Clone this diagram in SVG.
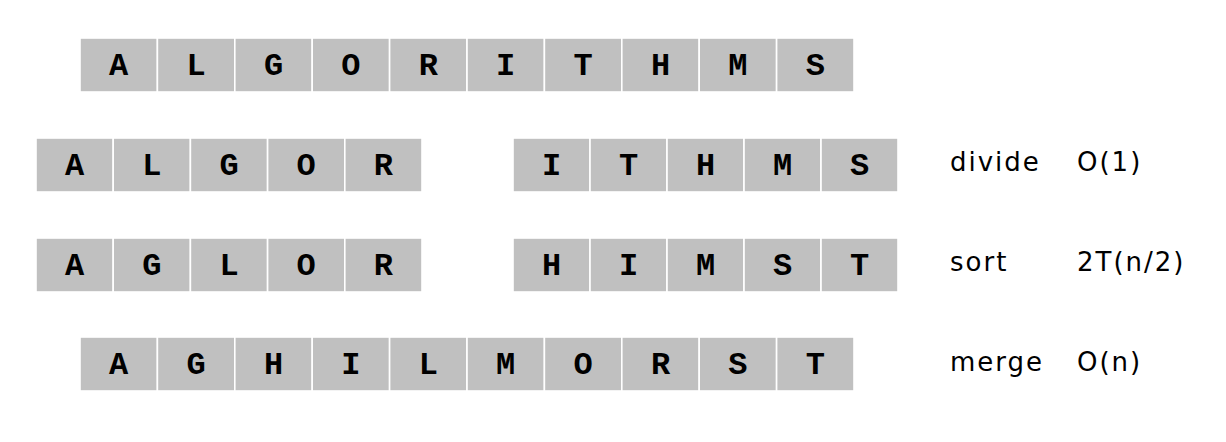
<svg xmlns="http://www.w3.org/2000/svg" width="1226" height="442" viewBox="0 0 1226 442">
<style>
.c rect{fill:#c0c0c0;stroke:#fff;stroke-width:1.6}
.c text{font-family:"Liberation Mono","Courier New",monospace;font-weight:bold;font-size:32px;fill:#000;text-anchor:middle}
.l{font-family:"Comic Sans MS","DejaVu Sans",sans-serif;font-size:26px;letter-spacing:2px;fill:#000}
</style>
<rect width="1226" height="442" fill="#fff"/>
<g id="row1">
<g id="r1c0" class="c"><rect x="80" y="38" width="77.4" height="54"/><text x="118.7" y="75">A</text></g>
<g id="r1c1" class="c"><rect x="157.4" y="38" width="77.4" height="54"/><text x="196.1" y="75">L</text></g>
<g id="r1c2" class="c"><rect x="234.8" y="38" width="77.4" height="54"/><text x="273.5" y="75">G</text></g>
<g id="r1c3" class="c"><rect x="312.2" y="38" width="77.4" height="54"/><text x="350.9" y="75">O</text></g>
<g id="r1c4" class="c"><rect x="389.6" y="38" width="77.4" height="54"/><text x="428.3" y="75">R</text></g>
<g id="r1c5" class="c"><rect x="467" y="38" width="77.4" height="54"/><text x="505.7" y="75">I</text></g>
<g id="r1c6" class="c"><rect x="544.4" y="38" width="77.4" height="54"/><text x="583.1" y="75">T</text></g>
<g id="r1c7" class="c"><rect x="621.8" y="38" width="77.4" height="54"/><text x="660.5" y="75">H</text></g>
<g id="r1c8" class="c"><rect x="699.2" y="38" width="77.4" height="54"/><text x="737.9" y="75">M</text></g>
<g id="r1c9" class="c"><rect x="776.6" y="38" width="77.4" height="54"/><text x="815.3" y="75">S</text></g>
</g>
<g id="row2">
<g id="r2c0" class="c"><rect x="36" y="138" width="77.2" height="54"/><text x="74.6" y="175">A</text></g>
<g id="r2c1" class="c"><rect x="113.2" y="138" width="77.2" height="54"/><text x="151.8" y="175">L</text></g>
<g id="r2c2" class="c"><rect x="190.4" y="138" width="77.2" height="54"/><text x="229" y="175">G</text></g>
<g id="r2c3" class="c"><rect x="267.6" y="138" width="77.2" height="54"/><text x="306.2" y="175">O</text></g>
<g id="r2c4" class="c"><rect x="344.8" y="138" width="77.2" height="54"/><text x="383.4" y="175">R</text></g>
<g id="r2c5" class="c"><rect x="513" y="138" width="77" height="54"/><text x="551.5" y="175">I</text></g>
<g id="r2c6" class="c"><rect x="590" y="138" width="77" height="54"/><text x="628.5" y="175">T</text></g>
<g id="r2c7" class="c"><rect x="667" y="138" width="77" height="54"/><text x="705.5" y="175">H</text></g>
<g id="r2c8" class="c"><rect x="744" y="138" width="77" height="54"/><text x="782.5" y="175">M</text></g>
<g id="r2c9" class="c"><rect x="821" y="138" width="77" height="54"/><text x="859.5" y="175">S</text></g>
</g>
<g id="row3">
<g id="r3c0" class="c"><rect x="36" y="238" width="77.2" height="54"/><text x="74.6" y="275">A</text></g>
<g id="r3c1" class="c"><rect x="113.2" y="238" width="77.2" height="54"/><text x="151.8" y="275">G</text></g>
<g id="r3c2" class="c"><rect x="190.4" y="238" width="77.2" height="54"/><text x="229" y="275">L</text></g>
<g id="r3c3" class="c"><rect x="267.6" y="238" width="77.2" height="54"/><text x="306.2" y="275">O</text></g>
<g id="r3c4" class="c"><rect x="344.8" y="238" width="77.2" height="54"/><text x="383.4" y="275">R</text></g>
<g id="r3c5" class="c"><rect x="513" y="238" width="77" height="54"/><text x="551.5" y="275">H</text></g>
<g id="r3c6" class="c"><rect x="590" y="238" width="77" height="54"/><text x="628.5" y="275">I</text></g>
<g id="r3c7" class="c"><rect x="667" y="238" width="77" height="54"/><text x="705.5" y="275">M</text></g>
<g id="r3c8" class="c"><rect x="744" y="238" width="77" height="54"/><text x="782.5" y="275">S</text></g>
<g id="r3c9" class="c"><rect x="821" y="238" width="77" height="54"/><text x="859.5" y="275">T</text></g>
</g>
<g id="row4">
<g id="r4c0" class="c"><rect x="80" y="337" width="77.4" height="54"/><text x="118.7" y="374">A</text></g>
<g id="r4c1" class="c"><rect x="157.4" y="337" width="77.4" height="54"/><text x="196.1" y="374">G</text></g>
<g id="r4c2" class="c"><rect x="234.8" y="337" width="77.4" height="54"/><text x="273.5" y="374">H</text></g>
<g id="r4c3" class="c"><rect x="312.2" y="337" width="77.4" height="54"/><text x="350.9" y="374">I</text></g>
<g id="r4c4" class="c"><rect x="389.6" y="337" width="77.4" height="54"/><text x="428.3" y="374">L</text></g>
<g id="r4c5" class="c"><rect x="467" y="337" width="77.4" height="54"/><text x="505.7" y="374">M</text></g>
<g id="r4c6" class="c"><rect x="544.4" y="337" width="77.4" height="54"/><text x="583.1" y="374">O</text></g>
<g id="r4c7" class="c"><rect x="621.8" y="337" width="77.4" height="54"/><text x="660.5" y="374">R</text></g>
<g id="r4c8" class="c"><rect x="699.2" y="337" width="77.4" height="54"/><text x="737.9" y="374">S</text></g>
<g id="r4c9" class="c"><rect x="776.6" y="337" width="77.4" height="54"/><text x="815.3" y="374">T</text></g>
</g>
<g id="labels">
<text class="l" x="950" y="171">divide</text>
<text class="l" x="1077" y="171">O(1)</text>
<text class="l" x="950" y="271">sort</text>
<text class="l" x="1077" y="271">2T(n/2)</text>
<text class="l" x="950" y="371">merge</text>
<text class="l" x="1077" y="371">O(n)</text>
</g>
</svg>
